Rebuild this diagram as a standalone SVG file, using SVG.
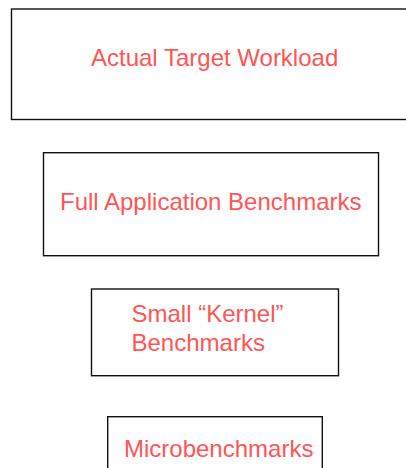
<svg xmlns="http://www.w3.org/2000/svg" width="406" height="468" viewBox="0 0 406 468">
<style>
.box{fill:#fff;stroke:#111;stroke-width:1.4}
.lbl{font-family:"Liberation Sans",Arial,sans-serif;font-size:24px;fill:#ff5555}
</style>
<rect width="406" height="468" fill="#fff"/>
<g id="actual-target-workload">
<rect class="box" x="11.5" y="9" width="420" height="110.5"/>
<text class="lbl" x="91" y="65.7">Actual Target Workload</text>
</g>
<g id="full-application-benchmarks">
<rect class="box" x="43.5" y="152.7" width="335" height="103"/>
<text class="lbl" x="60" y="210">Full Application Benchmarks</text>
</g>
<g id="small-kernel-benchmarks">
<rect class="box" x="91.5" y="289" width="247" height="86.7"/>
<text class="lbl" x="131.5" y="321.7">Small “Kernel”</text>
<text class="lbl" x="131.5" y="350.7">Benchmarks</text>
</g>
<g id="microbenchmarks">
<rect class="box" x="107.7" y="416.7" width="214.6" height="70"/>
<text class="lbl" x="124" y="456.7">Microbenchmarks</text>
</g>
<g id="connectors"></g>
</svg>
